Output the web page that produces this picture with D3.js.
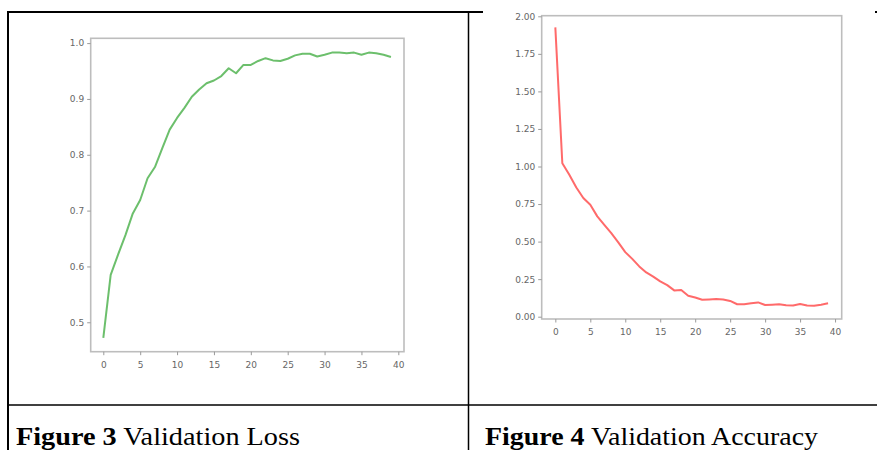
<!DOCTYPE html>
<html><head><meta charset="utf-8">
<script src="https://cdn.jsdelivr.net/npm/d3@7"></script>
<style>html,body{margin:0;padding:0;background:#fff;}svg{display:block;}</style>
</head><body>
<svg id="c" width="877" height="450"></svg>
<script>
// ---- data ----
const epochs = d3.range(0, 40);
const lossValues = [0.472,0.585,0.621,0.656,0.695,0.719,0.758,0.778,0.812,0.845,
  0.866,0.884,0.904,0.917,0.928,0.933,0.941,0.955,0.946,0.961,
  0.961,0.968,0.973,0.969,0.968,0.972,0.978,0.981,0.981,0.976,
  0.979,0.983,0.983,0.982,0.983,0.979,0.983,0.982,0.979,0.975];
const accValues = [1.926,1.022,0.945,0.86,0.79,0.745,0.668,0.612,0.556,0.495,
  0.43,0.385,0.335,0.295,0.267,0.235,0.21,0.175,0.178,0.14,
  0.128,0.113,0.115,0.118,0.115,0.105,0.083,0.083,0.09,0.095,
  0.078,0.08,0.083,0.076,0.075,0.085,0.074,0.073,0.08,0.089];
const xTicks = [0,5,10,15,20,25,30,35,40];
const lossTicks = [0.5,0.6,0.7,0.8,0.9,1.0];
const accTicks = [0.00,0.25,0.50,0.75,1.00,1.25,1.50,1.75,2.00];
const captions = [{bold:"Figure 3", rest:" Validation Loss"},{bold:"Figure 4", rest:" Validation Accuracy"}];

const svg = d3.select("#c");

// ---- table borders ----
const tb = svg.append("g").attr("stroke","#000").attr("fill","none");
tb.append("line").attr("x1",7).attr("x2",483).attr("y1",12).attr("y2",12).attr("stroke-width",2);
tb.append("line").attr("x1",875).attr("x2",877).attr("y1",12).attr("y2",12).attr("stroke-width",2);
tb.append("line").attr("x1",8).attr("x2",8).attr("y1",11).attr("y2",450).attr("stroke-width",2);
tb.append("line").attr("x1",468.5).attr("x2",468.5).attr("y1",12).attr("y2",450).attr("stroke-width",1.5);
tb.append("line").attr("x1",8).attr("x2",877).attr("y1",405).attr("y2",405).attr("stroke-width",1.5);

// ---- captions ----
const capX = [16, 485];
const capW = [284, 333];
captions.forEach((c,i)=>{
  const t = svg.append("text").attr("x",capX[i]).attr("y",445)
    .attr("font-family","'Liberation Serif', 'DejaVu Serif', serif").attr("font-size",25).attr("fill","#000")
    .attr("textLength",capW[i]).attr("lengthAdjust","spacingAndGlyphs");
  t.append("tspan").attr("font-weight","bold").text(c.bold);
  t.append("tspan").text(c.rest);
});

function chart(cfg){
  const g = svg.append("g");
  const x = d3.scaleLinear().domain(cfg.xd).range([cfg.l, cfg.r]);
  const y = d3.scaleLinear().domain(cfg.yd).range([cfg.b, cfg.t]);
  const fg = "#9a9a9a";
  // frame
  g.append("rect").attr("x",cfg.l).attr("y",cfg.t).attr("width",cfg.r-cfg.l).attr("height",cfg.b-cfg.t)
    .attr("fill","none").attr("stroke","#bdbdbd").attr("stroke-width",1.6);
  const ax = g.append("g").attr("transform",`translate(0,${cfg.b})`)
    .call(d3.axisBottom(x).tickValues(xTicks).tickSize(3.5).tickPadding(6).tickFormat(d3.format("d")));
  const ay = g.append("g").attr("transform",`translate(${cfg.l},0)`)
    .call(d3.axisLeft(y).tickValues(cfg.yt).tickSize(3.5).tickPadding(3).tickFormat(d3.format(cfg.yf)));
  [ax,ay].forEach(a=>{
    a.select(".domain").remove();
    a.selectAll(".tick line").attr("stroke",fg).attr("stroke-width",1);
    a.selectAll(".tick text").attr("fill","#666").attr("font-size",9)
      .attr("font-family","'DejaVu Sans', sans-serif");
  });
  const line = d3.line().x((d,i)=>x(epochs[i])).y(d=>y(d));
  g.append("path").datum(cfg.vals).attr("d",line).attr("fill","none")
    .attr("stroke",cfg.color).attr("stroke-width",2).attr("stroke-linejoin","round").attr("opacity",0.9);
}

chart({l:90.7,r:404,t:38.3,b:351.7, xd:[-1.71,40.77], yd:[0.4473,1.0086],
  yt:lossTicks, yf:".1f", vals:lossValues, color:"#5cb85c"});
chart({l:541.7,r:841.7,t:15.7,b:319, xd:[-1.95,40.95], yd:[-0.0153,2.004],
  yt:accTicks, yf:".2f", vals:accValues, color:"#ff5a5a"});
</script>
</body></html>
